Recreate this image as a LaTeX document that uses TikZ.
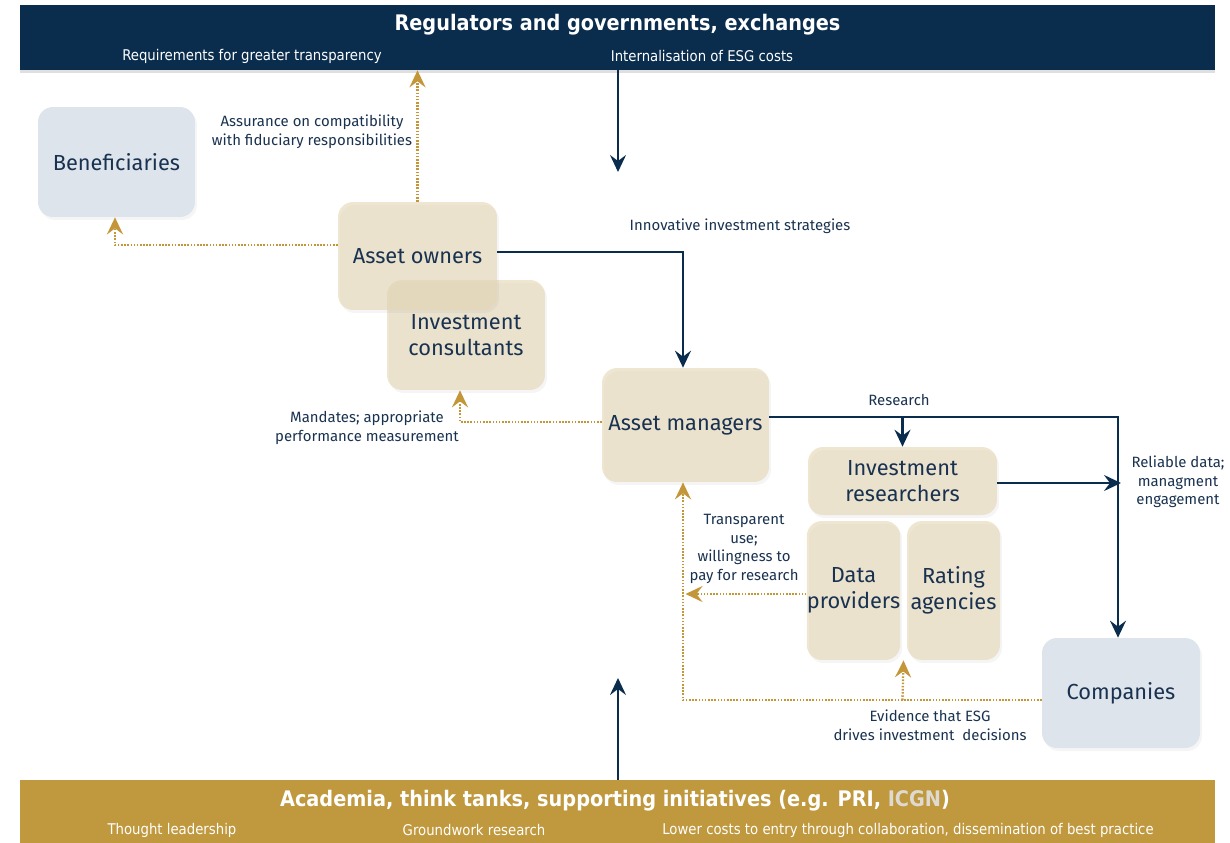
\documentclass[tikz,border=0pt]{standalone}
\usepackage{fontspec}
\setmainfont{Fira Sans}
\newfontfamily\barfont{DejaVu Sans Condensed}
\usepackage{xcolor}
\usepackage{tikz}
\usetikzlibrary{arrows.meta,positioning,shadows,calc}
\definecolor{navy}{RGB}{10,45,78}
\definecolor{inknavy}{RGB}{25,50,80}
\definecolor{gold}{RGB}{196,150,58}
\definecolor{barGold}{RGB}{192,152,62}
\definecolor{beige}{RGB}{228,214,180}
\definecolor{paleblue}{RGB}{222,228,236}
\definecolor{icgngray}{RGB}{222,218,210}

\begin{document}
\begin{tikzpicture}[x=0.02cm,y=-0.02cm,
      b/.style={fill=beige,fill opacity=0.6,text opacity=1,rounded corners=0.3cm,
                align=center,text=inknavy,font=\fontsize{12.4}{14.6}\selectfont,
                drop shadow={shadow xshift=0.04cm,shadow yshift=-0.06cm,opacity=0.08}},
      c/.style={b,fill=paleblue,fill opacity=1},
      l/.style={align=center,text=inknavy,font=\fontsize{8.5}{10.6}\selectfont},
      bar/.style={minimum width=23.9cm,minimum height=1.3cm,inner sep=0pt,
                  drop shadow={shadow xshift=0cm,shadow yshift=-0.06cm,opacity=0.25}},
      bt/.style={text=white,font=\barfont\bfseries\fontsize{12.2}{14}\selectfont},
      bs/.style={text=white,font=\barfont\fontsize{8.4}{10}\selectfont},
      n/.style={-{Stealth[length=3.4mm,width=3.2mm,inset=1.2mm]},color=navy,line width=1.2pt},
      g/.style={-{Stealth[length=3.4mm,width=3.2mm,inset=1.2mm]},color=gold,line width=1.3pt,
                dash pattern=on 0.9pt off 0.9pt}]
  \useasboundingbox (0,0) rectangle (1230,842);

  \node[bar,fill=navy] (reg) at (617.5,37.5) {};
  \node[bt] (regt) at (617.5,25) {Regulators and governments, exchanges};
  \node[bs] (req) at (252,56) {Requirements for greater transparency};
  \node[bs] (int) at (702,56) {Internalisation of ESG costs};

  \node[bar,fill=barGold,minimum height=1.4cm] (aca) at (617.5,815) {};
  \node[bt] (acat) at (615,801) {Academia, think tanks, supporting initiatives (e.g. PRI, \textcolor{icgngray}{ICGN})};
  \foreach \x/\nm/\t in {172/tl/Thought leadership,474/gw/Groundwork research,
      908/lc/{Lower costs to entry through collaboration, dissemination of best practice}}
    \node[bs] (\nm) at (\x,830) {\t};

  \node[c,minimum width=3.14cm,minimum height=2.2cm] (ben) at (116.5,162) {Beneficiaries};
  \node[b,minimum width=3.16cm,minimum height=2.2cm] (con) at (466,335) {Investment\\consultants};
  \node[b,minimum width=3.18cm,minimum height=2.16cm] (own) at (417.5,256) {\raisebox{-3pt}{Asset owners}};
  \node[b,minimum width=3.34cm,minimum height=2.28cm] (man) at (685.5,425) {Asset managers};
  \node[b,minimum width=3.78cm,minimum height=1.36cm] (res) at (902.5,481) {Investment\\researchers};
  \node[b,minimum width=1.86cm,minimum height=2.78cm,inner xsep=0pt] (dat) at (853.5,590.5) {Data\\providers};
  \node[b,minimum width=1.86cm,minimum height=2.78cm,inner xsep=0pt] (rat) at (953.5,590.5) {Rating\\agencies};
  \node[c,minimum width=3.16cm,minimum height=2.2cm] (com) at (1121,693) {Companies};

  \node[l] (asu) at (312,132) {Assurance on compatibility\\with fiduciary responsibilities};
  \node[l] (inv) at (740,226) {Innovative investment strategies};
  \node[l] (mnd) at (367,428) {Mandates; appropriate\\performance measurement};
  \node[l] (rsl) at (899,400) {Research};
  \node[l] (rel) at (1178,482) {Reliable data;\\managment\\engagement};
  \node[l] (trn) at (744,549) {Transparent\\use;\\willingness to\\pay for research};
  \node[l] (evd) at (930,725) {Evidence that ESG\\drives investment\ \ decisions};

  \coordinate (top) at (618,172);
  \coordinate (bot) at (618,678);
  \coordinate (mo) at ([yshift=0.16cm]man.east);
  \coordinate (co) at ([yshift=-0.14cm]com.west);

  \draw[n] (reg.south -| top) -- (top);
  \draw[n] (aca.north -| bot) -- (bot);
  \draw[n] ([yshift=0.08cm]own.east) -| ([xshift=-0.05cm]man.north);
  \draw[n] (mo) -| ([xshift=-0.06cm]com.north);
  \draw[n] (mo -| res.north) -- (res.north);
  \draw[n] ([yshift=-0.04cm]res.east) -- ([yshift=-0.04cm]res.east -| com.north);

  \draw[g] (own.north) -- (own.north |- reg.south);
  \draw[g] ([yshift=0.22cm]own.west) -| ([xshift=-0.03cm]ben.south);
  \draw[g] ([yshift=0.06cm]man.west) -| ([xshift=-0.12cm]con.south);
  \draw[g] (co) -| ([xshift=-0.05cm]man.south);
  \draw[g] (co -| res.south) -- ($(dat.south)!0.5!(rat.south)$);
  \draw[g] ([yshift=-0.07cm]dat.west) -- ([yshift=-0.07cm]dat.west -| man.south);
\end{tikzpicture}
\end{document}
